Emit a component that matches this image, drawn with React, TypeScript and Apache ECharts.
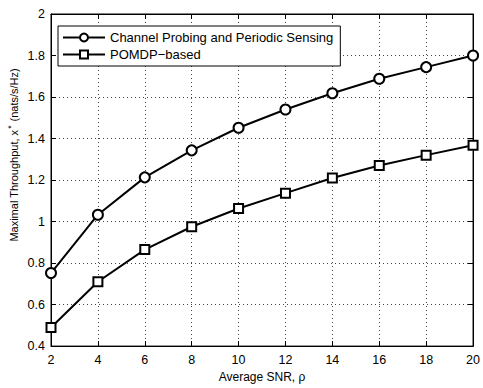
import React, { useEffect, useRef } from "react";
import * as echarts from "echarts";

const snr = [2, 4, 6, 8, 10, 12, 14, 16, 18, 20];
const probing = [0.752, 1.033, 1.213, 1.343, 1.452, 1.54, 1.618, 1.688, 1.744, 1.8];
const pomdp = [0.49, 0.71, 0.865, 0.975, 1.063, 1.137, 1.21, 1.27, 1.32, 1.368];
const seriesNames = ["Channel Probing and Periodic Sensing", "POMDP\u2212based"];
const yLabel = "Maximal Throughput, x{sup|*} (nats/s/Hz)";
const xLabel = "Average SNR, \u03c1";

const FONT = "'Liberation Sans', Arial, Helvetica, sans-serif";

export default function App() {
  const ref = useRef<HTMLDivElement>(null);
  useEffect(() => {
    if (!ref.current) return;
    const chart = echarts.init(ref.current, undefined, { renderer: "svg" });
    const toPairs = (ys: number[]) => snr.map((x, i) => [x, ys[i]]);
    const gridLine = { show: true, lineStyle: { color: "#444", width: 1, type: [1, 3] as any } };
    chart.setOption({
      animation: false,
      backgroundColor: "#fff",
      textStyle: { fontFamily: FONT },
      grid: {
        left: 51,
        right: 6,
        top: 14,
        bottom: 38,
        show: true,
        borderColor: "#000",
        borderWidth: 1,
        backgroundColor: "transparent",
      },
      graphic: [
        {
          type: "text",
          x: 14,
          y: 155,
          rotation: Math.PI / 2,
          style: {
            text: yLabel,
            fontFamily: FONT,
            fontSize: 11,
            fill: "#000",
            align: "center",
            verticalAlign: "middle",
            rich: {
              sup: { fontSize: 8.5, fontFamily: FONT, fill: "#000", padding: [0, 1, 7, 1] },
            },
          },
        },
      ],
      legend: {
        orient: "vertical",
        left: 58,
        top: 26,
        data: seriesNames,
        backgroundColor: "#fff",
        borderColor: "#000",
        borderWidth: 1,
        borderRadius: 0,
        padding: [5, 7, 5, 4],
        itemGap: 4,
        itemWidth: 42,
        itemHeight: 10,
        textStyle: { fontFamily: FONT, fontSize: 13, lineHeight: 13, color: "#000" },
      },
      xAxis: [
        {
          type: "value",
          min: 2,
          max: 20,
          interval: 2,
          name: xLabel,
          nameLocation: "middle",
          nameGap: 24,
          nameTextStyle: { fontFamily: FONT, fontSize: 12, color: "#000" },
          axisLine: { show: true, lineStyle: { color: "#000" } },
          axisTick: { show: true, inside: true, length: 5, lineStyle: { color: "#000" } },
          axisLabel: { fontFamily: FONT, fontSize: 12.5, color: "#000", margin: 7 },
          splitLine: gridLine,
        },
        {
          type: "value",
          position: "top",
          min: 2,
          max: 20,
          interval: 2,
          axisLine: { show: true, lineStyle: { color: "#000" } },
          axisTick: { show: true, inside: true, length: 5, lineStyle: { color: "#000" } },
          axisLabel: { show: false },
          splitLine: { show: false },
        },
      ],
      yAxis: [
        {
          type: "value",
          min: 0.4,
          max: 2,
          interval: 0.2,
          axisLine: { show: true, lineStyle: { color: "#000" } },
          axisTick: { show: true, inside: true, length: 5, lineStyle: { color: "#000" } },
          axisLabel: {
            fontFamily: FONT,
            fontSize: 12.5,
            color: "#000",
            margin: 6,
            formatter: (v: number) => String(parseFloat(v.toFixed(1))),
          },
          splitLine: gridLine,
        },
        {
          type: "value",
          position: "right",
          min: 0.4,
          max: 2,
          interval: 0.2,
          axisLine: { show: true, lineStyle: { color: "#000" } },
          axisTick: { show: true, inside: true, length: 5, lineStyle: { color: "#000" } },
          axisLabel: { show: false },
          splitLine: { show: false },
        },
      ],
      series: [
        {
          name: seriesNames[0],
          type: "line",
          data: toPairs(probing),
          symbol: "circle",
          symbolSize: 10,
          lineStyle: { color: "#000", width: 2 },
          itemStyle: { color: "#fff", borderColor: "#000", borderWidth: 2 },
          z: 3,
        },
        {
          name: seriesNames[1],
          type: "line",
          data: toPairs(pomdp),
          symbol: "rect",
          symbolSize: 9,
          lineStyle: { color: "#000", width: 2 },
          itemStyle: { color: "#fff", borderColor: "#000", borderWidth: 2 },
          z: 3,
        },
      ],
    });
    return () => chart.dispose();
  }, []);
  return <div ref={ref} style={{ width: 483, height: 388, position: "absolute", left: 0, top: 0 }} />;
}
